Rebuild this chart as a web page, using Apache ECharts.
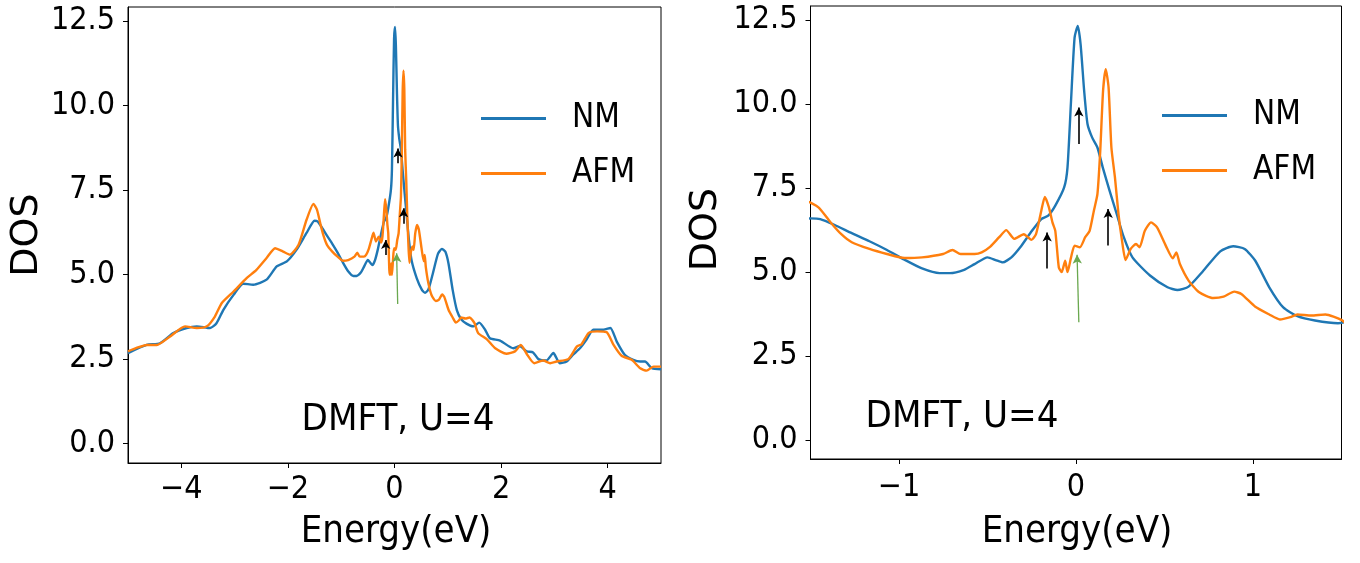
<!DOCTYPE html>
<html>
<head>
<meta charset="utf-8">
<title>DOS DMFT U=4</title>
<script src="https://cdn.jsdelivr.net/npm/echarts@6/dist/echarts.min.js"></script>
<style>
  html, body { margin: 0; padding: 0; background: #fff; }
  #chart { width: 1360px; height: 563px; }
</style>
</head>
<body>
<div id="chart"></div>
<script>
// NM curve (energy in eV, DOS)
const nmEnergy = [
  -5.00, -4.65, -4.40, -4.15, -3.90, -3.71, -3.46, -3.34, -3.21, -3.02, -2.84, -2.65, -2.40, -2.21, -2.02, -1.84, -1.65,
  -1.50, -1.445, -1.366, -1.267, -1.167, -1.068, -0.969, -0.870, -0.771, -0.712, -0.632, -0.573, -0.500, -0.454, -0.414,
  -0.365, -0.315, -0.256, -0.196, -0.157, -0.117, -0.067, -0.048, -0.028, -0.008, 0.010, 0.026, 0.046, 0.065, 0.091,
  0.121, 0.151, 0.190, 0.230, 0.270, 0.319, 0.418, 0.517, 0.573, 0.636, 0.716, 0.815, 0.888, 0.953, 1.013, 1.092,
  1.171, 1.251, 1.350, 1.48, 1.59, 1.70, 1.79, 1.98, 2.23, 2.35, 2.48, 2.60, 2.70, 2.85, 2.98, 3.10, 3.23, 3.35,
  3.48, 3.60, 3.73, 3.92, 4.05, 4.17, 4.32, 4.48, 4.61, 4.70, 4.83, 5.00
];
const nmDos = [
  2.68, 2.92, 2.97, 3.27, 3.42, 3.47, 3.42, 3.56, 3.96, 4.40, 4.73, 4.70, 4.85, 5.24, 5.39, 5.73, 6.23,
  6.59, 6.57, 6.40, 6.15, 5.91, 5.65, 5.36, 5.10, 4.96, 4.96, 5.06, 5.23, 5.43, 5.35, 5.28,
  5.43, 5.73, 6.17, 6.57, 6.67, 6.97, 7.51, 8.11, 10.09, 11.97, 12.32, 11.77, 10.39, 9.40, 9.00,
  8.70, 8.11, 7.41, 6.72, 6.03, 5.43, 4.89, 4.54, 4.46, 4.56, 5.01, 5.61, 5.76, 5.68, 5.33, 4.54,
  3.94, 3.68, 3.55, 3.47, 3.58, 3.37, 3.12, 3.05, 2.82, 2.89, 2.73, 2.70, 2.50, 2.46, 2.68, 2.38, 2.43, 2.63,
  2.82, 3.07, 3.37, 3.37, 3.42, 3.02, 2.63, 2.48, 2.43, 2.43, 2.23, 2.20
];

// AFM curve
const afmEnergy = [
  -5.00, -4.84, -4.65, -4.46, -4.21, -3.93, -3.71, -3.52, -3.37, -3.24, -3.02, -2.77, -2.59, -2.40, -2.24, -2.09, -1.96,
  -1.80, -1.65, -1.52, -1.455, -1.386, -1.326, -1.267, -1.167, -1.068, -0.969, -0.870, -0.751, -0.698, -0.652, -0.573,
  -0.533, -0.484, -0.434, -0.394, -0.349, -0.295, -0.252, -0.226, -0.196, -0.176, -0.153, -0.133, -0.117, -0.097, -0.081,
  -0.061, -0.048, -0.028, -0.008, 0.022, 0.052, 0.077, 0.101, 0.121, 0.137, 0.153, 0.168, 0.184, 0.200, 0.220, 0.240,
  0.260, 0.280, 0.309, 0.339, 0.359, 0.389, 0.424, 0.458, 0.507, 0.547, 0.567, 0.587, 0.636, 0.696, 0.775, 0.834,
  0.894, 0.934, 1.013, 1.092, 1.152, 1.211, 1.251, 1.330, 1.409, 1.499, 1.57, 1.73, 1.89, 2.10, 2.26, 2.37, 2.49,
  2.62, 2.79, 2.92, 3.04, 3.26, 3.42, 3.51, 3.64, 3.80, 3.98, 4.11, 4.26, 4.45, 4.61, 4.73, 4.86, 5.00
];
const afmDos = [
  2.73, 2.83, 2.92, 2.92, 3.17, 3.47, 3.42, 3.47, 3.76, 4.16, 4.50, 4.90, 5.14, 5.49, 5.78, 5.68, 5.59,
  5.88, 6.62, 7.09, 6.92, 6.47, 6.12, 5.88, 5.68, 5.53, 5.41, 5.43, 5.53, 5.65, 5.53, 5.53,
  5.58, 5.75, 6.03, 6.24, 5.98, 6.12, 5.95, 6.12, 6.82, 7.23, 6.92, 6.47, 6.22, 5.13, 4.99,
  5.33, 4.99, 5.43, 5.78, 5.73, 6.03, 6.22, 6.82, 7.31, 8.60, 10.39, 11.03, 10.49, 8.70, 7.81, 6.72,
  5.93, 5.35, 5.68, 5.83, 5.73, 6.22, 6.47, 6.32, 5.78, 5.40, 5.58, 5.23, 4.74, 4.39, 4.22, 4.26,
  4.41, 4.34, 3.96, 3.73, 3.58, 3.65, 3.73, 3.70, 3.73, 3.57, 3.27, 3.09, 2.82, 2.66, 2.73, 2.92, 2.63,
  2.38, 2.46, 2.38, 2.43, 2.50, 2.87, 2.94, 3.27, 3.32, 3.30, 2.92, 2.60, 2.48, 2.23, 2.16, 2.28, 2.28
];

// arrows: [energy start, dos start, energy end, dos end]
const leftArrows = [[0.066, 8.29, 0.066, 8.73], [0.17, 6.50, 0.17, 6.96], [-0.165, 5.58, -0.165, 6.02]];
const leftGreenArrow = [0.06, 4.13, 0.04, 5.63];
const rightArrows = [[0.016, 8.80, 0.016, 9.89], [-0.163, 5.10, -0.163, 6.17], [0.182, 5.78, 0.182, 6.87]];
const rightGreenArrow = [0.016, 3.50, 0.006, 5.51];

// ticks
const yTicks = [0, 2.5, 5, 7.5, 10, 12.5];
const leftXTicks = [-4, -2, 0, 2, 4];
const rightXTicks = [-1, 0, 1];

const seriesNames = ['NM', 'AFM'];
const noteText = 'DMFT, U=4';

const FONT = "'DejaVu Sans Condensed', 'DejaVu Sans'";
const FONT_V = 'DejaVu Sans';
const NM_COLOR = '#1f77b4';
const AFM_COLOR = '#ff7f0e';

function pairs(xs, ys) {
  return xs.map((x, i) => [x, ys[i]]);
}

function arrowLines(list, green) {
  let out = list.map((a) => [{ coord: [a[0], a[1]] }, { coord: [a[2], a[3]] }]);
  out.push([
    { coord: [green[0], green[1]], lineStyle: { color: '#6aa84f', width: 1.3 } },
    { coord: [green[2], green[3]] },
  ]);
  return out;
}

function makeXAxis(idx, min, max, ticks, margin) {
  return {
    type: 'value',
    gridIndex: idx,
    min: min,
    max: max,
    axisLine: { show: true, onZero: false, lineStyle: { color: '#000', width: 1 } },
    axisTick: { show: true, length: 5, customValues: ticks, lineStyle: { color: '#000' } },
    axisLabel: {
      customValues: ticks,
      margin: margin,
      color: '#000',
      fontFamily: FONT,
      fontSize: 32,
      formatter: (v) => String(v).replace('-', '\u2212'),
    },
    splitLine: { show: false },
  };
}

function makeYAxis(idx) {
  return {
    type: 'value',
    gridIndex: idx,
    min: -0.57,
    max: 12.91,
    axisLine: { show: true, onZero: false, lineStyle: { color: '#000', width: 1 } },
    axisTick: { show: true, length: 5, customValues: yTicks, lineStyle: { color: '#000' } },
    axisLabel: {
      customValues: yTicks,
      margin: 13,
      color: '#000',
      fontFamily: FONT,
      fontSize: 32,
      formatter: (v) => v.toFixed(1),
    },
    splitLine: { show: false },
  };
}

function makeSeries(idx, name, xs, ys, color, arrows) {
  let s = {
    name: name,
    type: 'line',
    xAxisIndex: idx,
    yAxisIndex: idx,
    data: pairs(xs, ys),
    showSymbol: false,
    symbol: 'none',
    smooth: 0.2,
    lineStyle: { color: color, width: 2.4 },
    itemStyle: { color: color },
  };
  if (arrows) {
    s.markLine = {
      silent: true,
      symbol: ['none', 'arrow'],
      symbolSize: [7, 9],
      label: { show: false },
      lineStyle: { color: '#000', width: 1.6, type: 'solid' },
      data: arrows,
    };
  }
  return s;
}

function makeLegend(left, top) {
  return {
    data: seriesNames,
    orient: 'vertical',
    left: left,
    top: top,
    icon: 'rect',
    itemWidth: 65,
    itemHeight: 3,
    itemGap: 22,
    textStyle: { fontFamily: FONT, fontSize: 33, lineHeight: 33, color: '#000', padding: [0, 0, 0, 21] },
  };
}

function textEl(text, x, y, size, family, rotation) {
  return {
    type: 'text',
    x: x,
    y: y,
    rotation: rotation || 0,
    style: { text: text, fontFamily: family, fontSize: size, fill: '#000', align: 'center', verticalAlign: 'middle' },
  };
}

const chart = echarts.init(document.getElementById('chart'));

const option = {
  animation: false,
  backgroundColor: '#fff',
  grid: [
    { left: 128, top: 7, width: 533, height: 456, show: true, borderColor: '#000', borderWidth: 1 },
    { left: 810.5, top: 6, width: 531, height: 453, show: true, borderColor: '#000', borderWidth: 1 },
  ],
  xAxis: [makeXAxis(0, -5, 5, leftXTicks, 11), makeXAxis(1, -1.5, 1.5, rightXTicks, 13)],
  yAxis: [makeYAxis(0), makeYAxis(1)],
  legend: [makeLegend(476, 97), makeLegend(1157, 94)],
  series: [
    makeSeries(0, 'NM', nmEnergy, nmDos, NM_COLOR),
    makeSeries(0, 'AFM', afmEnergy, afmDos, AFM_COLOR, arrowLines(leftArrows, leftGreenArrow)),
    makeSeries(1, 'NM', nmEnergy, nmDos, NM_COLOR),
    makeSeries(1, 'AFM', afmEnergy, afmDos, AFM_COLOR, arrowLines(rightArrows, rightGreenArrow)),
  ],
  graphic: [
    textEl(noteText, 398, 420, 38, FONT),
    textEl(noteText, 962, 417.5, 38, FONT),
    textEl('Energy(eV)', 396, 532, 38, FONT),
    textEl('Energy(eV)', 1077, 532, 38, FONT),
    textEl('DOS', 27, 235, 38, FONT_V, Math.PI / 2),
    textEl('DOS', 706, 229.5, 38, FONT_V, Math.PI / 2),
  ],
};

chart.setOption(option);
</script>
</body>
</html>
